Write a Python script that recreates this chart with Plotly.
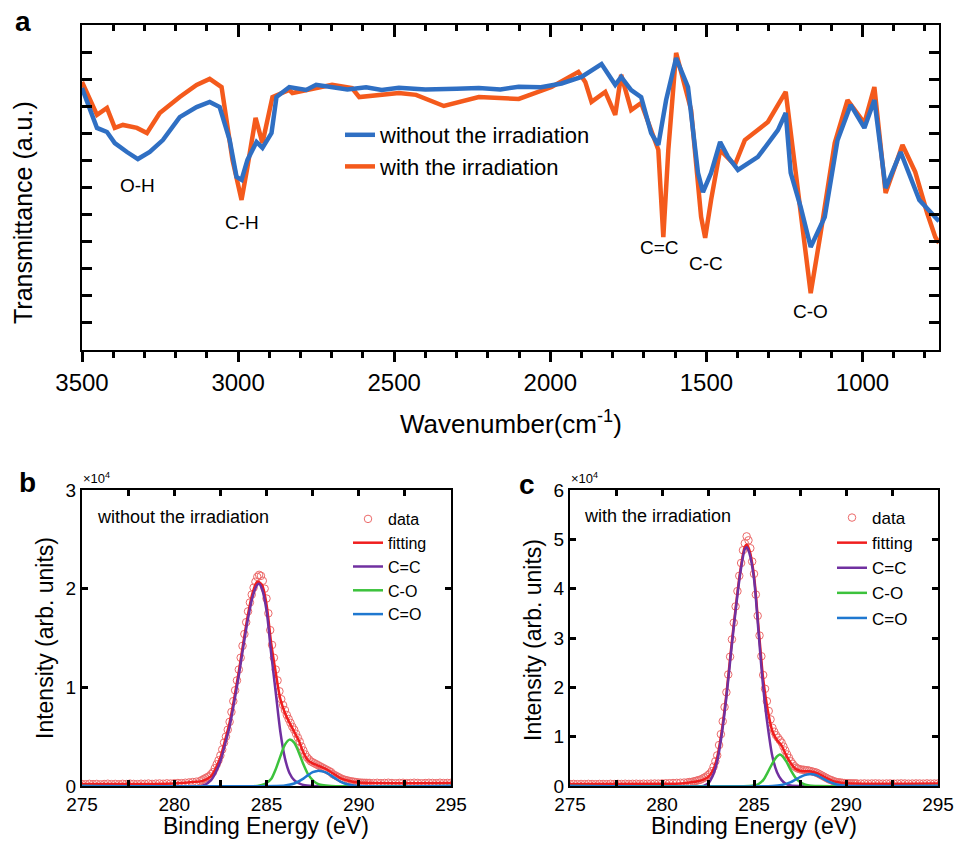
import plotly.graph_objects as go

# ---------------- Panel a : FTIR ----------------
WN_BLUE = [3500, 3481, 3452, 3420, 3395, 3356, 3321, 3283, 3241, 3187, 3133, 3091, 3059, 3027, 3005, 2989, 2970,
           2941, 2922, 2893, 2877, 2836, 2782, 2750, 2699, 2650, 2590, 2540, 2485, 2400, 2300, 2229, 2160, 2101,
           2030, 1964, 1900, 1836, 1792, 1773, 1741, 1709, 1677, 1654, 1629, 1597, 1559, 1527, 1511, 1485, 1456,
           1431, 1399, 1335, 1271, 1246, 1230, 1198, 1166, 1121, 1080, 1038, 994, 962, 926, 878, 818, 767, 755]
T_BLUE = [9.67, 9.12, 8.20, 8.05, 7.64, 7.31, 7.05, 7.31, 7.75, 8.60, 8.97, 9.16, 8.97, 7.75, 6.39, 6.28, 7.02,
          7.68, 7.46, 8.01, 9.34, 9.71, 9.60, 9.79, 9.71, 9.62, 9.70, 9.60, 9.68, 9.62, 9.65, 9.67, 9.62, 9.72,
          9.70, 9.84, 10.08, 10.56, 9.79, 10.08, 9.60, 9.34, 8.01, 7.57, 9.23, 10.78, 9.71, 6.54, 5.83, 6.54, 7.68,
          7.13, 6.65, 7.13, 8.12, 8.75, 6.54, 5.28, 3.80, 4.91, 7.75, 9.05, 8.20, 9.23, 5.98, 7.31, 5.54, 4.91, 4.75]

WN_ORANGE = [3500, 3452, 3420, 3395, 3369, 3324, 3292, 3251, 3187, 3133, 3091, 3053, 3018, 2989, 2970, 2944, 2922,
             2890, 2836, 2826, 2699, 2635, 2612, 2485, 2430, 2341, 2229, 2101, 1996, 1910, 1888, 1868, 1824, 1792,
             1773, 1741, 1709, 1654, 1638, 1622, 1597, 1549, 1517, 1504, 1485, 1456, 1409, 1377, 1303, 1246, 1223,
             1191, 1166, 1134, 1089, 1048, 994, 962, 926, 872, 831, 793, 767, 755]
T_ORANGE = [9.90, 8.68, 8.94, 8.20, 8.31, 8.20, 8.01, 8.75, 9.34, 9.79, 10.01, 9.71, 7.02, 5.54, 6.76, 8.57, 7.64,
            9.34, 9.60, 9.49, 9.79, 9.67, 9.34, 9.49, 9.42, 9.01, 9.34, 9.27, 9.71, 10.27, 9.90, 9.16, 9.53, 8.68,
            10.16, 8.86, 9.12, 7.39, 4.17, 7.39, 10.97, 8.86, 4.91, 4.14, 5.54, 7.39, 6.83, 7.75, 8.42, 9.53, 7.39,
            4.32, 2.10, 4.32, 7.64, 9.23, 8.38, 9.71, 5.80, 7.57, 6.57, 5.06, 4.17, 3.95]

BAND_LABELS = ["O-H", "C-H", "C=C", "C-C", "C-O"]
BAND_WN = [3321, 2989, 1649, 1500, 1167]
BAND_Y = [6.09, 4.69, 3.80, 3.20, 1.41]

# ---------------- Panels b, c : XPS C1s ----------------
XPS_E = [275.0, 275.2, 275.4, 275.6, 275.8, 276.0, 276.2, 276.4, 276.6, 276.8, 277.0, 277.2, 277.4, 277.6, 277.8,
         278.0, 278.2, 278.4, 278.6, 278.8, 279.0, 279.2, 279.4, 279.6, 279.8, 280.0, 280.2, 280.4, 280.6, 280.8,
         281.0, 281.2, 281.4,
         281.5, 281.6, 281.7, 281.8, 281.9, 282.0, 282.1, 282.2, 282.3, 282.4,
         282.5, 282.6, 282.7, 282.8, 282.9, 283.0, 283.1, 283.2, 283.3, 283.4,
         283.5, 283.6, 283.7, 283.8, 283.9, 284.0, 284.1, 284.2, 284.3, 284.4,
         284.5, 284.6, 284.7, 284.8, 284.9, 285.0, 285.1, 285.2, 285.3, 285.4,
         285.5, 285.6, 285.7, 285.8, 285.9, 286.0, 286.1, 286.2, 286.3, 286.4,
         286.5, 286.6, 286.7, 286.8, 286.9, 287.0, 287.1, 287.2, 287.3, 287.4,
         287.5, 287.6, 287.7, 287.8, 287.9, 288.0, 288.1, 288.2, 288.3, 288.4,
         288.5, 288.6, 288.7, 288.8, 288.9, 289.0, 289.1, 289.2, 289.3, 289.4,
         289.5, 289.6, 289.7, 289.8, 289.9, 290.0, 290.1, 290.2, 290.3, 290.4,
         290.5,
         290.6, 290.8, 291.0, 291.2, 291.4, 291.6, 291.8, 292.0, 292.2, 292.4, 292.6, 292.8, 293.0, 293.2, 293.4,
         293.6, 293.8, 294.0, 294.2, 294.4, 294.6, 294.8, 295.0]

B_DATA = [0.020, 0.018, 0.022, 0.019, 0.021, 0.017, 0.020, 0.023, 0.019, 0.021,
          0.018, 0.022, 0.020, 0.024, 0.021, 0.019, 0.023, 0.022, 0.025, 0.021,
          0.024, 0.026, 0.023, 0.027, 0.025, 0.028, 0.030, 0.029, 0.033, 0.036,
          0.040, 0.044, 0.050,
          0.06, 0.07, 0.08, 0.09, 0.10, 0.12, 0.14, 0.18, 0.22, 0.26,
          0.31, 0.37, 0.44, 0.50, 0.57, 0.65, 0.75, 0.86, 0.97, 1.07,
          1.18, 1.30, 1.42, 1.54, 1.66, 1.77, 1.86, 1.94, 2.01, 2.07,
          2.12, 2.14, 2.13, 2.08, 2.00, 1.90, 1.75, 1.58, 1.43, 1.30,
          1.18, 1.07, 0.96, 0.88, 0.82, 0.77, 0.72, 0.68, 0.64, 0.60,
          0.57, 0.53, 0.49, 0.45, 0.40, 0.36, 0.32, 0.29, 0.27, 0.25,
          0.24, 0.23, 0.22, 0.21, 0.20, 0.19, 0.18, 0.17, 0.16, 0.15,
          0.14, 0.12, 0.11, 0.10, 0.09, 0.08, 0.07, 0.065, 0.06, 0.055,
          0.05, 0.047, 0.044, 0.041, 0.038, 0.035, 0.034, 0.033, 0.032, 0.032,
          0.031,
          0.031, 0.030, 0.032, 0.029, 0.031, 0.033, 0.030, 0.028, 0.031, 0.032, 0.029, 0.030, 0.033, 0.031, 0.028,
          0.030, 0.032, 0.031, 0.029, 0.033, 0.030, 0.031, 0.032]

C_DATA = [0.040, 0.042, 0.038, 0.041, 0.039, 0.043, 0.040, 0.037, 0.042, 0.041,
          0.039, 0.044, 0.040, 0.043, 0.041, 0.045, 0.042, 0.044, 0.046, 0.043,
          0.047, 0.045, 0.048, 0.050, 0.049, 0.052, 0.055, 0.057, 0.060, 0.063,
          0.066, 0.070, 0.075,
          0.08, 0.08, 0.09, 0.10, 0.11, 0.12, 0.13, 0.15, 0.17, 0.19,
          0.22, 0.25, 0.30, 0.39, 0.50, 0.62, 0.83, 1.05, 1.31, 1.60,
          1.90, 2.26, 2.62, 2.97, 3.31, 3.64, 3.95, 4.26, 4.52, 4.78,
          4.92, 5.06, 4.98, 4.82, 4.55, 4.30, 3.88, 3.45, 3.05, 2.63,
          2.25, 1.97, 1.72, 1.52, 1.35, 1.18, 1.10, 1.03, 0.98, 0.93,
          0.88, 0.80, 0.72, 0.64, 0.57, 0.50, 0.45, 0.40, 0.37, 0.35,
          0.34, 0.33, 0.33, 0.32, 0.32, 0.31, 0.30, 0.29, 0.28, 0.27,
          0.25, 0.23, 0.21, 0.19, 0.17, 0.15, 0.13, 0.12, 0.10, 0.09,
          0.08, 0.075, 0.07, 0.065, 0.06, 0.058, 0.056, 0.055, 0.054, 0.053,
          0.052,
          0.051, 0.050, 0.052, 0.049, 0.051, 0.053, 0.050, 0.048, 0.051, 0.052, 0.049, 0.050, 0.053, 0.051, 0.048,
          0.050, 0.052, 0.051, 0.049, 0.053, 0.050, 0.051, 0.052]

# panel b fit + components
B_FIT_E = [275, 280, 281.0, 281.5, 282.0, 282.25, 282.5, 282.75, 283.0, 283.25, 283.5, 283.75, 284.0, 284.25, 284.5,
           284.75, 285.0, 285.25, 285.5, 285.75, 286.0, 286.25, 286.5, 286.75, 287.0, 287.25, 287.5, 287.75, 288.0,
           288.25, 288.5, 288.75, 289.0, 289.5, 290.0, 295]
B_FIT = [0.02, 0.025, 0.04, 0.05, 0.10, 0.18, 0.29, 0.46, 0.64, 0.89, 1.16, 1.46, 1.74, 1.96, 2.07,
         2.04, 1.84, 1.45, 1.15, 0.88, 0.74, 0.64, 0.55, 0.46, 0.34, 0.26, 0.23, 0.21, 0.19,
         0.17, 0.14, 0.11, 0.08, 0.05, 0.035, 0.03]
B_CC_E = [275, 281.5, 282.0, 282.25, 282.5, 282.75, 283.0, 283.25, 283.5, 283.75, 284.0, 284.25, 284.5, 284.6, 284.75,
          285.0, 285.25, 285.5, 285.75, 286.0, 286.25, 286.5, 286.75, 287.0, 287.5, 295]
B_CC = [0, 0, 0.06, 0.14, 0.25, 0.42, 0.60, 0.85, 1.12, 1.42, 1.70, 1.92, 2.04, 2.05, 2.00,
        1.78, 1.35, 0.95, 0.55, 0.28, 0.13, 0.06, 0.03, 0.01, 0, 0]
B_CO_E = [275, 284.5, 284.75, 285.0, 285.25, 285.5, 285.75, 286.0, 286.25, 286.5, 286.75, 287.0, 287.25, 287.5, 287.75,
          288.0, 288.5, 295]
B_CO = [0, 0, 0.01, 0.03, 0.07, 0.17, 0.30, 0.42, 0.47, 0.44, 0.34, 0.22, 0.12, 0.06, 0.025, 0.01, 0, 0]
B_CdO_E = [275, 285.5, 286.0, 286.5, 287.0, 287.25, 287.5, 287.75, 288.0, 288.25, 288.5, 288.75, 289.0, 289.5, 290.0, 295]
B_CdO = [0, 0, 0.005, 0.025, 0.075, 0.11, 0.14, 0.153, 0.15, 0.135, 0.105, 0.075, 0.045, 0.012, 0, 0]

# panel c fit + components
C_FIT_E = [275, 280, 281.0, 281.5, 282.0, 282.25, 282.5, 282.75, 283.0, 283.25, 283.5, 283.75, 284.0, 284.25, 284.5,
           284.6, 284.75, 285.0, 285.25, 285.5, 285.75, 286.0, 286.25, 286.5, 286.75, 287.0, 287.25, 287.5, 287.75,
           288.0, 288.25, 288.5, 288.75, 289.0, 289.25, 289.5, 290.0, 295]
C_FIT = [0.04, 0.045, 0.05, 0.07, 0.10, 0.13, 0.18, 0.30, 0.58, 1.12, 1.86, 2.76, 3.60, 4.35, 4.85,
         4.89, 4.78, 4.26, 3.19, 2.17, 1.53, 1.11, 0.93, 0.82, 0.62, 0.46, 0.35, 0.31, 0.30,
         0.30, 0.28, 0.25, 0.20, 0.15, 0.11, 0.08, 0.055, 0.05]
C_CC_E = [275, 282.25, 282.5, 282.75, 283.0, 283.25, 283.5, 283.75, 284.0, 284.25, 284.5, 284.6, 284.75, 285.0,
          285.25, 285.5, 285.75, 286.0, 286.25, 286.5, 286.75, 287.0, 287.5, 295]
C_CC = [0, 0, 0.05, 0.20, 0.50, 1.05, 1.80, 2.70, 3.55, 4.30, 4.80, 4.84, 4.72, 4.20,
        3.10, 2.00, 1.20, 0.60, 0.28, 0.12, 0.04, 0.01, 0, 0]
C_CO_E = [275, 284.75, 285.0, 285.25, 285.5, 285.75, 286.0, 286.25, 286.4, 286.5, 286.75, 287.0, 287.25, 287.5,
          287.75, 288.0, 288.5, 295]
C_CO = [0, 0, 0.01, 0.04, 0.12, 0.28, 0.46, 0.60, 0.64, 0.62, 0.50, 0.32, 0.17, 0.08, 0.03, 0.01, 0, 0]
C_CdO_E = [275, 286.0, 286.5, 287.0, 287.25, 287.5, 287.75, 288.0, 288.25, 288.5, 288.75, 289.0, 289.25, 289.5,
           290.0, 290.5, 295]
C_CdO = [0, 0, 0.02, 0.08, 0.13, 0.18, 0.22, 0.24, 0.235, 0.20, 0.15, 0.10, 0.06, 0.03, 0.005, 0, 0]

# ---------------- styles ----------------
BLUE = "#2F6FC3"
ORANGE = "#F45A1C"
RED = "#F01E1E"
PURPLE = "#7030A0"
GREEN = "#3CC23C"
LBLUE = "#1F78D0"
DATA_C = "#EC6A6A"
FONT = "Liberation Sans, Arial, sans-serif"

fig = go.Figure()

# panel a (blue on the overlaying top axis so it sits above orange)
fig.add_trace(go.Scatter(x=WN_ORANGE, y=T_ORANGE, mode="lines", name="with the irradiation",
                         line=dict(color=ORANGE, width=4.5), xaxis="x", yaxis="y", legend="legend", legendrank=2))
fig.add_trace(go.Scatter(x=WN_BLUE, y=T_BLUE, mode="lines", name="without the irradiation",
                         line=dict(color=BLUE, width=4.5), xaxis="x4", yaxis="y", legend="legend", legendrank=1))


def xps(xa, ya, leg, data, fit_e, fit, cc_e, cc, co_e, co, cdo_e, cdo):
    fig.add_trace(go.Scatter(x=XPS_E, y=data, mode="markers", name="data", xaxis=xa, yaxis=ya, legend=leg,
                             marker=dict(symbol="circle-open", size=7.5, color=DATA_C, line=dict(width=1))))
    fig.add_trace(go.Scatter(x=fit_e, y=fit, mode="lines", name="fitting", xaxis=xa, yaxis=ya, legend=leg,
                             line=dict(color=RED, width=2.5, shape="spline", smoothing=0.8)))
    fig.add_trace(go.Scatter(x=cc_e, y=cc, mode="lines", name="C=C", xaxis=xa, yaxis=ya, legend=leg,
                             line=dict(color=PURPLE, width=2.5, shape="spline", smoothing=0.8)))
    fig.add_trace(go.Scatter(x=co_e, y=co, mode="lines", name="C-O", xaxis=xa, yaxis=ya, legend=leg,
                             line=dict(color=GREEN, width=2.5, shape="spline", smoothing=0.8)))
    fig.add_trace(go.Scatter(x=cdo_e, y=cdo, mode="lines", name="C=O", xaxis=xa, yaxis=ya, legend=leg,
                             line=dict(color=LBLUE, width=2.5, shape="spline", smoothing=0.8)))


xps("x2", "y2", "legend2", B_DATA, B_FIT_E, B_FIT, B_CC_E, B_CC, B_CO_E, B_CO, B_CdO_E, B_CdO)
xps("x3", "y3", "legend3", C_DATA, C_FIT_E, C_FIT, C_CC_E, C_CC, C_CO_E, C_CO, C_CdO_E, C_CdO)

W, H = 954, 843
def px(v):
    return v / W
def py(v):
    return 1 - v / H

A_X = [px(82), px(939)]
A_Y = [py(350), py(25)]
B_X = [px(82), px(451)]
C_X = [px(570), px(938)]
BC_Y = [py(786), py(490)]

xps_x = dict(range=[275, 295], dtick=5, ticks="inside", ticklen=6, tickwidth=2.5, tickcolor="black",
             showline=True, linecolor="black", linewidth=2, mirror="ticks", automargin=False,
             tickfont=dict(size=19, color="black", family=FONT),
             minor=dict(dtick=2.5, ticks="inside", ticklen=6, tickwidth=2.5, tickcolor="black"))
xps_y = dict(dtick=1, ticks="inside", ticklen=6, tickwidth=2.5, tickcolor="black", showline=True, linecolor="black",
             linewidth=2, mirror="ticks", automargin=False,
             tickfont=dict(size=19, color="black", family=FONT))

fig.update_layout(
    template="none",
    width=W, height=H, margin=dict(l=0, r=0, t=0, b=0, autoexpand=False),
    paper_bgcolor="white", plot_bgcolor="white",
    font=dict(family=FONT, color="black"),
    xaxis=dict(domain=A_X, anchor="y", range=[3500, 755], dtick=500, ticks="outside", ticklen=10,
               tickwidth=2.5, tickcolor="black", showline=True, linecolor="black", linewidth=2, mirror=True,
               automargin=False, tickfont=dict(size=24, family=FONT, color="black"),
               minor=dict(dtick=100, ticks="outside", ticklen=6, tickwidth=2.5, tickcolor="black")),
    xaxis4=dict(overlaying="x", anchor="y", side="top", range=[3500, 755], dtick=500, ticks="inside",
                ticklen=12, tickwidth=2.5, tickcolor="black", showline=False, showticklabels=False, automargin=False,
                minor=dict(dtick=100, ticks="inside", ticklen=6, tickwidth=2.5, tickcolor="black")),
    yaxis=dict(domain=A_Y, anchor="x", range=[0, 12], dtick=1, ticks="inside", ticklen=10, tickwidth=2.5,
               tickcolor="black", showline=True, linecolor="black", linewidth=2, mirror="ticks",
               showticklabels=False, automargin=False),
    xaxis2=dict(domain=B_X, anchor="y2", **xps_x),
    yaxis2=dict(domain=BC_Y, anchor="x2", range=[0, 3], **xps_y),
    xaxis3=dict(domain=C_X, anchor="y3", **xps_x),
    yaxis3=dict(domain=BC_Y, anchor="x3", range=[0, 6], **xps_y),
    legend=dict(x=px(340), y=py(114), xanchor="left", yanchor="top", bgcolor="rgba(0,0,0,0)",
                font=dict(size=22, family=FONT, color="black"), tracegroupgap=0),
    legend2=dict(x=px(348), y=py(502), xanchor="left", yanchor="top", bgcolor="rgba(0,0,0,0)",
                 font=dict(size=16, family=FONT, color="black"), tracegroupgap=0),
    legend3=dict(x=px(832), y=py(500), xanchor="left", yanchor="top", bgcolor="rgba(0,0,0,0)",
                 font=dict(size=17, family=FONT, color="black"), tracegroupgap=0),
    showlegend=True,
)
fig.update_xaxes(showgrid=False, zeroline=False)
fig.update_yaxes(showgrid=False, zeroline=False)

ann = []
for lab, wx, wy in zip(BAND_LABELS, BAND_WN, BAND_Y):
    ann.append(dict(x=wx, y=wy, xref="x", yref="y", text=lab, showarrow=False, xanchor="center", yanchor="middle",
                    font=dict(size=19, family=FONT, color="black")))


def pann(x, y, text, size, angle=0, xa="center", ya="middle"):
    ann.append(dict(x=px(x), y=py(y), xref="paper", yref="paper", text=text, textangle=angle, showarrow=False,
                    xanchor=xa, yanchor=ya, font=dict(size=size, family=FONT, color="black")))


# panel letters
pann(23, 21, "<b>a</b>", 28)
pann(27, 482, "<b>b</b>", 28)
pann(527, 484, "<b>c</b>", 28)
# axis titles
pann(23, 213, "Transmittance (a.u.)", 25, -90)
pann(511, 422, "Wavenumber(cm<sup>-1</sup>)", 26)
pann(45, 638, "Intensity (arb. units)", 23, -90)
pann(266, 826, "Binding Energy (eV)", 23)
pann(533, 640, "Intensity (arb. units)", 23, -90)
pann(754, 826, "Binding Energy (eV)", 23)
# x10^4 multipliers
pann(81, 488, "×10<sup>4</sup>", 13, xa="left", ya="bottom")
pann(569, 488, "×10<sup>4</sup>", 13, xa="left", ya="bottom")
# in-panel labels
ann.append(dict(x=275.7, y=2.73, xref="x2", yref="y2", text="without the irradiation", xanchor="left",
                yanchor="middle", showarrow=False, font=dict(size=18, family=FONT, color="black")))
ann.append(dict(x=275.65, y=5.47, xref="x3", yref="y3", text="with the irradiation", xanchor="left",
                yanchor="middle", showarrow=False, font=dict(size=18, family=FONT, color="black")))
fig.update_layout(annotations=ann)

fig.write_html("out.html", config={"displayModeBar": False},
               post_script="document.body.style.margin='0px';")
